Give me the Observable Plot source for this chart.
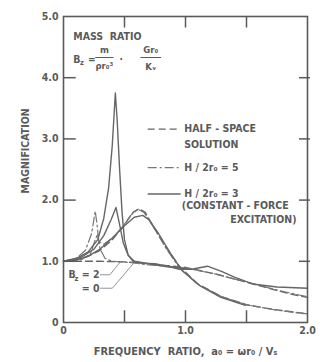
<!DOCTYPE html>
<html><head><meta charset="utf-8">
<script src="https://cdn.jsdelivr.net/npm/d3@7"></script>
<script src="https://cdn.jsdelivr.net/npm/@observablehq/plot@0.6"></script>
<style>body{margin:0;background:#fff}</style>
</head><body><div id="chart"></div>
<script>
// axis ticks
const a0Ticks = [0, 1, 2];
const a0TickLabels = ["0", "1.0", "2.0"];
const magTicks = [0, 1, 2, 3, 4, 5];
const magTickLabels = ["0", "1.0", "2.0", "3.0", "4.0", "5.0"];
const innerA0Ticks = [0.5, 1.0, 1.5];
const innerMagTicks = [1, 2, 3, 4];

// half-space solution (dashed)
const halfSpaceB0 = [[0,1.0],[0.3,1.0],[0.5,0.99],[0.7,0.96],[0.85,0.93],[1.0,0.9],[1.25,0.79],[1.5,0.66],[1.7,0.55],[1.85,0.47],[2.0,0.41]];
const halfSpaceB2 = [[0,1.0],[0.1,1.02],[0.2,1.08],[0.3,1.18],[0.4,1.35],[0.5,1.6],[0.57,1.8],[0.62,1.86],[0.67,1.8],[0.75,1.52],[0.85,1.2],[0.95,0.92],[1.1,0.63],[1.3,0.42],[1.5,0.29],[1.7,0.22],[2.0,0.14]];
// H/2r0 = 5 (dash-dot)
const h5B0 = [[0,1.0],[0.15,1.03],[0.22,1.12],[0.26,1.35],[0.28,1.45],[0.3,1.2],[0.34,1.05],[0.4,1.0],[0.55,0.98],[0.7,0.94],[0.85,0.92],[1.0,0.89],[1.25,0.79],[1.5,0.66],[1.75,0.53],[2.0,0.42]];
const h5B2 = [[0,1.0],[0.1,1.04],[0.18,1.18],[0.23,1.45],[0.26,1.82],[0.275,1.6],[0.29,1.32],[0.33,1.28],[0.4,1.38],[0.48,1.55],[0.55,1.75],[0.61,1.85],[0.66,1.8],[0.74,1.55],[0.85,1.18],[0.95,0.9],[1.1,0.62],[1.3,0.42],[1.5,0.29],[1.75,0.2],[2.0,0.14]];
// H/2r0 = 3 (solid)
const h3Tall = [[0,1.0],[0.1,1.04],[0.2,1.15],[0.28,1.35],[0.33,1.7],[0.37,2.2],[0.4,2.9],[0.425,3.75],[0.44,3.3],[0.46,2.5],[0.48,1.8],[0.5,1.35],[0.53,1.1],[0.57,1.0],[0.65,0.97],[0.75,0.96],[0.85,0.92],[0.95,0.87],[1.05,0.87],[1.18,0.92],[1.3,0.83],[1.4,0.74],[1.55,0.63],[1.75,0.58],[2.0,0.56]];
const h3Mid = [[0,1.0],[0.15,1.07],[0.25,1.2],[0.33,1.42],[0.39,1.68],[0.43,1.88],[0.46,1.6],[0.49,1.3],[0.53,1.1],[0.58,1.0],[0.7,0.96],[0.85,0.91],[1.0,0.88]];
const h3Broad = [[0,1.0],[0.1,1.02],[0.2,1.08],[0.3,1.2],[0.4,1.38],[0.5,1.58],[0.58,1.72],[0.65,1.75],[0.7,1.68],[0.78,1.45],[0.88,1.12],[0.97,0.85],[1.12,0.6],[1.29,0.41],[1.49,0.28]];

const rows = (name, pts) => pts.map(([a, m]) => ({a, m, name}));
const dashed = [...rows("hs0", halfSpaceB0), ...rows("hs2", halfSpaceB2)];
const dashdot = [...rows("h50", h5B0), ...rows("h52", h5B2)];
const solid = [...rows("h3t", h3Tall), ...rows("h3m", h3Mid), ...rows("h3b", h3Broad)];

// legend
const legendDashed = [{text: "HALF - SPACE", m: 3.16}];
const legendDashDot = [{text: "H / 2r₀ = 5", m: 2.53}];
const legendSolid = [{text: "H / 2r₀ = 3", m: 2.1}];
const legendStart = [
  {text: "SOLUTION", a: 0.99, m: 2.9},
  {text: "(CONSTANT - FORCE", a: 0.97, m: 1.91}
];
const legendEnd = [{text: "EXCITATION)", a: 1.91, m: 1.68}];
const formulaStart = [
  {text: "MASS  RATIO", a: 0.08, m: 4.67, size: 10.5},
  {text: "B", a: 0.08, m: 4.3, size: 10.5},
  {text: "z", a: 0.135, m: 4.24, size: 7.5},
  {text: "=", a: 0.2, m: 4.3, size: 10},
  {text: "·", a: 0.46, m: 4.3, size: 10},
  {text: "B", a: 0.04, m: 0.78, size: 10.5},
  {text: "z", a: 0.09, m: 0.72, size: 7.5},
  {text: "= 2", a: 0.15, m: 0.78, size: 10.5},
  {text: "= 0", a: 0.15, m: 0.56, size: 10.5}
];
const formulaMiddle = [
  {text: "m", a: 0.335, m: 4.45},
  {text: "ρr₀³", a: 0.335, m: 4.19},
  {text: "Gr₀", a: 0.715, m: 4.45},
  {text: "Kᵥ", a: 0.715, m: 4.18}
];
const fractionBars = [{a1: 0.26, a2: 0.41, m: 4.33}, {a1: 0.63, a2: 0.8, m: 4.33}];
const leaders = [
  {a1: 0.3, m1: 0.78, a2: 0.38, m2: 0.78}, {a1: 0.38, m1: 0.78, a2: 0.47, m2: 1.0},
  {a1: 0.3, m1: 0.56, a2: 0.4, m2: 0.56}, {a1: 0.4, m1: 0.56, a2: 0.58, m2: 0.98}
];

const ink = "#5a5a5a";
const fontFamily = "'DejaVu Sans Condensed', 'DejaVu Sans', sans-serif";

const chart = Plot.plot({
  width: 323, height: 362,
  marginLeft: 63, marginRight: 16, marginTop: 16, marginBottom: 40,
  x: {domain: [0, 2], axis: null},
  y: {domain: [0, 5], axis: null},
  style: {fontFamily, fontWeight: "bold", fontSize: "10.5px", color: ink, background: "#fff"},
  marks: [
    Plot.line(dashed, {x: "a", y: "m", z: "name", stroke: "#666", strokeWidth: 1.4, strokeDasharray: "7,4"}),
    Plot.line(dashdot, {x: "a", y: "m", z: "name", stroke: "#777", strokeWidth: 1.2, strokeDasharray: "9,3,2,3"}),
    Plot.line(solid, {x: "a", y: "m", z: "name", stroke: "#666", strokeWidth: 1.4}),
    Plot.frame({stroke: ink, strokeWidth: 1.6}),
    // inward ticks
    Plot.link(innerA0Ticks, {x1: d => d, x2: d => d, y1: 5, y2: 4.82, stroke: ink, strokeWidth: 1.5}),
    Plot.link(innerA0Ticks, {x1: d => d, x2: d => d, y1: 0, y2: 0.2, stroke: ink, strokeWidth: 1.5}),
    Plot.link(innerMagTicks, {x1: 0, x2: 0.1, y1: d => d, y2: d => d, stroke: ink, strokeWidth: 1.5}),
    Plot.link(innerMagTicks, {x1: 1.93, x2: 2.02, y1: d => d, y2: d => d, stroke: ink, strokeWidth: 1.5}),
    // tick labels
    Plot.text(magTicks, {x: 0, y: d => d, text: (d, i) => magTickLabels[i], textAnchor: "end", dx: -5, fill: ink}),
    Plot.text(a0Ticks, {x: d => d, y: 0, text: (d, i) => a0TickLabels[i], dy: 8, fill: ink}),
    // axis labels
    Plot.text(["MAGNIFICATION"], {frameAnchor: "left", dx: -38, dy: 24, rotate: -90, fill: ink, fontSize: 10.5}),
    Plot.text(["FREQUENCY  RATIO,  a₀ = ωr₀ / Vₛ"], {frameAnchor: "bottom", dy: 32, fill: ink, fontSize: 11}),
    // legend
    Plot.link(legendDashed, {x1: 0.69, x2: 0.96, y1: "m", y2: "m", stroke: "#666", strokeWidth: 1.3, strokeDasharray: "7,4"}),
    Plot.link(legendDashDot, {x1: 0.69, x2: 0.96, y1: "m", y2: "m", stroke: "#777", strokeWidth: 1.2, strokeDasharray: "9,3,2,3"}),
    Plot.link(legendSolid, {x1: 0.69, x2: 0.96, y1: "m", y2: "m", stroke: "#666", strokeWidth: 1.3}),
    Plot.text([...legendDashed, ...legendDashDot, ...legendSolid], {x: 0.99, y: "m", text: "text", textAnchor: "start", fill: ink}),
    Plot.text(legendStart, {x: "a", y: "m", text: "text", textAnchor: "start", fill: ink}),
    Plot.text(legendEnd, {x: "a", y: "m", text: "text", textAnchor: "end", fill: ink}),
    // formula & labels
    Plot.text(formulaStart, {x: "a", y: "m", text: "text", textAnchor: "start", fill: ink, fontSize: d => d.size}),
    Plot.text(formulaMiddle, {x: "a", y: "m", text: "text", textAnchor: "middle", fill: ink, fontSize: 9.5}),
    Plot.link(fractionBars, {x1: "a1", x2: "a2", y1: "m", y2: "m", stroke: ink, strokeWidth: 1}),
    Plot.link(leaders, {x1: "a1", y1: "m1", x2: "a2", y2: "m2", stroke: "#888", strokeWidth: 0.9})
  ]
});
document.getElementById("chart").append(chart);
</script>
</body></html>
